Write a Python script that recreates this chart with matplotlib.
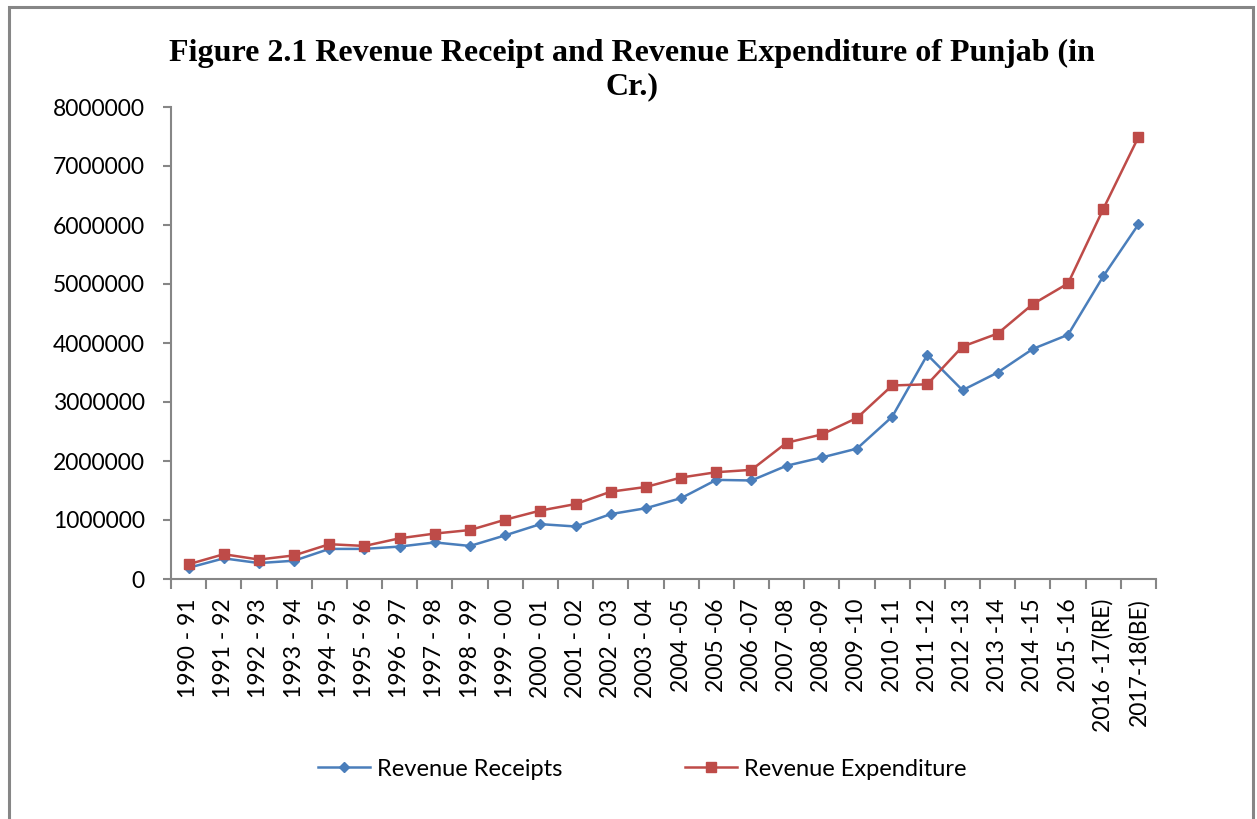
import matplotlib
matplotlib.use("Agg")
import matplotlib.pyplot as plt
from matplotlib.patches import Rectangle
from matplotlib.ticker import FixedLocator, NullFormatter

years = ["1990 - 91", "1991 - 92", "1992 - 93", "1993 - 94", "1994 - 95", "1995 - 96",
         "1996 - 97", "1997 - 98", "1998 - 99", "1999 - 00", "2000 - 01", "2001 - 02",
         "2002 - 03", "2003 - 04", "2004 -05", "2005 -06", "2006 -07", "2007 -08",
         "2008 -09", "2009 -10", "2010 -11", "2011 -12", "2012 -13", "2013 -14",
         "2014 -15", "2015 -16", "2016 -17(RE)", "2017-18(BE)"]

receipts = [190000, 350000, 270000, 310000, 510000, 510000, 550000, 620000, 560000,
            740000, 930000, 890000, 1100000, 1200000, 1370000, 1680000, 1670000,
            1920000, 2060000, 2210000, 2750000, 3800000, 3200000, 3500000, 3900000,
            4140000, 5130000, 6010000]

expenditure = [250000, 420000, 330000, 400000, 590000, 560000, 690000, 770000, 830000,
               1005000, 1160000, 1270000, 1480000, 1560000, 1720000, 1810000, 1850000,
               2310000, 2450000, 2730000, 3280000, 3300000, 3940000, 4160000, 4660000,
               5010000, 6270000, 7490000]

W, H = 1257, 819
fig = plt.figure(figsize=(W / 100, H / 100), dpi=100)

# outer border
fig.patches.append(Rectangle((8.5 / W, -0.05), (1253 - 8.5) / W, (H - 6.5) / H + 0.05,
                             transform=fig.transFigure, fill=False,
                             edgecolor="#868686", linewidth=2.2))

ax = fig.add_axes([171 / W, (H - 579) / H, (1156 - 171) / W, (579 - 107) / H])
x = list(range(len(years)))
ax.plot(x, receipts, color="#4a7ebb", lw=1.8, marker="D", ms=5.5,
        label="Revenue Receipts", zorder=3)
ax.plot(x, expenditure, color="#be4b48", lw=1.8, marker="s", ms=7.5,
        label="Revenue Expenditure", zorder=3)

ax.set_xlim(-0.5, len(years) - 0.5)
ax.set_ylim(0, 8000000)
ax.set_yticks(range(0, 8000001, 1000000))
ax.set_yticklabels([str(v) for v in range(0, 8000001, 1000000)])

ax.set_xticks(x)
ax.set_xticklabels(years, rotation=90)
ax.xaxis.set_minor_locator(FixedLocator([i - 0.5 for i in range(len(years) + 1)]))
ax.xaxis.set_minor_formatter(NullFormatter())
ax.tick_params(axis="x", which="major", length=0, pad=14)
ax.tick_params(axis="x", which="minor", length=7, width=1.5, color="#868686")
ax.tick_params(axis="y", length=6, width=1.5, color="#868686", pad=13)

for lab in ax.get_xticklabels() + ax.get_yticklabels():
    lab.set_fontfamily("Lato")
    lab.set_fontsize(16.5)
    lab.set_color("black")

for s in ["top", "right"]:
    ax.spines[s].set_visible(False)
for s in ["left", "bottom"]:
    ax.spines[s].set_color("#868686")
    ax.spines[s].set_linewidth(1.5)

fig.text(0.5024, 0.953, "Figure 2.1 Revenue Receipt and Revenue Expenditure of Punjab (in\nCr.)",
         ha="center", va="top", fontfamily="Liberation Serif", fontweight="bold",
         fontsize=23, linespacing=1.2)

leg = fig.legend(loc="center", bbox_to_anchor=(642 / W, (H - 769) / H), ncol=2,
                 frameon=False, prop={"family": "Lato", "size": 17},
                 columnspacing=5.2, handlelength=2.2, handletextpad=0.3)

fig.savefig("out.png", dpi=100, facecolor="white")
